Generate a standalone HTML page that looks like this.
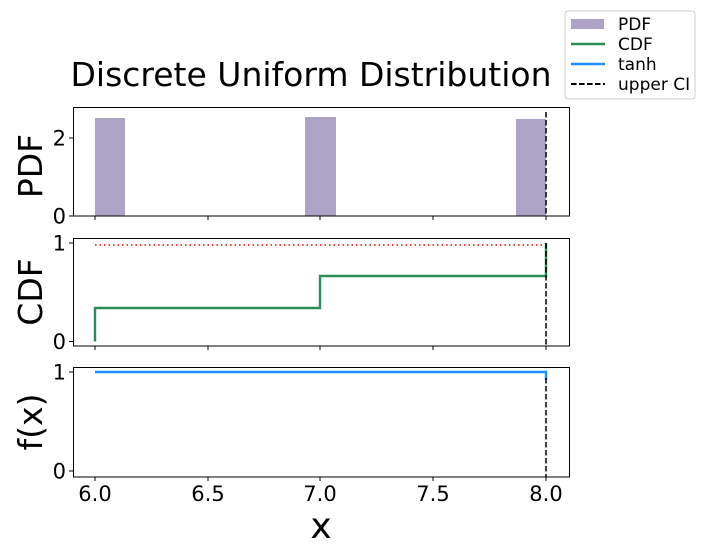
<!DOCTYPE html>
<html><head><meta charset="utf-8"><style>body{margin:0;background:#fff}svg{display:block}text{font-family:"DejaVu Sans","Liberation Sans",sans-serif}</style></head>
<body>
<svg width="704" height="555" viewBox="0 0 704 555" xmlns="http://www.w3.org/2000/svg">
<rect width="704" height="555" fill="#fff"/>
<text x="311" y="86" font-size="33" text-anchor="middle" fill="#000">Discrete Uniform Distribution</text>
<rect x="95" y="118" width="30" height="98" fill="#ada3c6"/>
<rect x="305" y="117" width="31" height="99" fill="#ada3c6"/>
<rect x="516" y="119" width="30" height="97" fill="#ada3c6"/>
<line x1="546" y1="112" x2="546" y2="216" stroke="#000" stroke-width="1.5" stroke-dasharray="5.5,2.5"/>
<rect x="73.5" y="107.5" width="496" height="108.5" fill="none" stroke="#000" stroke-width="1"/>
<g stroke="#000" stroke-width="1"><line x1="69" y1="138" x2="73" y2="138"/><line x1="69" y1="216" x2="73" y2="216"/>
<line x1="95" y1="216" x2="95" y2="220"/><line x1="208" y1="216" x2="208" y2="220"/><line x1="320" y1="216" x2="320" y2="220"/><line x1="433" y1="216" x2="433" y2="220"/><line x1="546" y1="216" x2="546" y2="220"/></g>
<g font-size="21" text-anchor="end"><text x="66" y="145.5">2</text><text x="66" y="223.5">0</text></g>
<text transform="translate(42,166) rotate(-90)" font-size="33" text-anchor="middle">PDF</text>
<line x1="95" y1="245" x2="546" y2="245" stroke="red" stroke-width="1.5" stroke-dasharray="1.5,3"/>
<polyline points="95,341.5 95,308 320,308 320,276 546,276 546,243" fill="none" stroke="#2e8b57" stroke-width="2.4"/>
<line x1="546" y1="243" x2="546" y2="346" stroke="#000" stroke-width="1.5" stroke-dasharray="5.5,2.5"/>
<rect x="73.5" y="238.5" width="496" height="107.5" fill="none" stroke="#000" stroke-width="1"/>
<g stroke="#000" stroke-width="1"><line x1="69" y1="243" x2="73" y2="243"/><line x1="69" y1="341.5" x2="73" y2="341.5"/>
<line x1="95" y1="346" x2="95" y2="350"/><line x1="208" y1="346" x2="208" y2="350"/><line x1="320" y1="346" x2="320" y2="350"/><line x1="433" y1="346" x2="433" y2="350"/><line x1="546" y1="346" x2="546" y2="350"/></g>
<g font-size="21" text-anchor="end"><text x="66" y="250.5">1</text><text x="66" y="349">0</text></g>
<text transform="translate(42,292) rotate(-90)" font-size="33" text-anchor="middle">CDF</text>
<polyline points="95,372 546,372 546,380" fill="none" stroke="#1e90ff" stroke-width="2.4"/>
<line x1="546" y1="378" x2="546" y2="477" stroke="#000" stroke-width="1.5" stroke-dasharray="5.5,2.5"/>
<rect x="73.5" y="367.5" width="496" height="109.5" fill="none" stroke="#000" stroke-width="1"/>
<g stroke="#000" stroke-width="1"><line x1="69" y1="372" x2="73" y2="372"/><line x1="69" y1="471" x2="73" y2="471"/>
<line x1="95" y1="477" x2="95" y2="481"/><line x1="208" y1="477" x2="208" y2="481"/><line x1="320" y1="477" x2="320" y2="481"/><line x1="433" y1="477" x2="433" y2="481"/><line x1="546" y1="477" x2="546" y2="481"/></g>
<g font-size="21" text-anchor="end"><text x="66" y="379.5">1</text><text x="66" y="478.5">0</text></g>
<g font-size="21" text-anchor="middle"><text x="95" y="501">6.0</text><text x="208" y="501">6.5</text><text x="320" y="501">7.0</text><text x="433" y="501">7.5</text><text x="546" y="501">8.0</text></g>
<text x="321" y="538" font-size="36" text-anchor="middle">x</text>
<text transform="translate(42,422) rotate(-90)" font-size="33" text-anchor="middle">f(x)</text>
<rect x="565" y="11" width="130" height="88" rx="3" fill="#fff" stroke="#ccc"/>
<rect x="571" y="19" width="33" height="10" fill="#ada3c6"/>
<line x1="571" y1="44" x2="605" y2="44" stroke="#2e8b57" stroke-width="2.4"/>
<line x1="571" y1="64" x2="605" y2="64" stroke="#1e90ff" stroke-width="2.4"/>
<line x1="571" y1="84" x2="605" y2="84" stroke="#000" stroke-width="2" stroke-dasharray="5.5,2.5"/>
<g font-size="17"><text x="618" y="30">PDF</text><text x="618" y="50">CDF</text><text x="618" y="70">tanh</text><text x="618" y="90">upper CI</text></g>
</svg>
</body></html>
